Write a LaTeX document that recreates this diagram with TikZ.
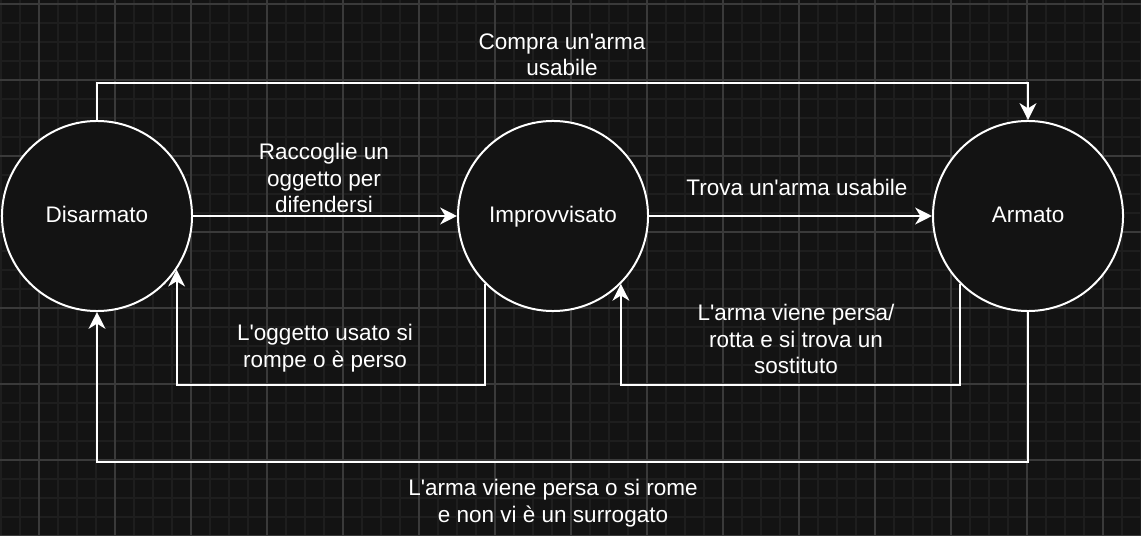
\documentclass[tikz,border=0pt]{standalone}
\usepackage{fontspec}
\setmainfont{Liberation Sans}
\usetikzlibrary{arrows.meta}
\definecolor{bgdark}{HTML}{131313}
\definecolor{gridminor}{HTML}{1E1E1E}
\definecolor{gridmajor}{HTML}{3A3A3A}
\newcommand{\apo}{\textquotesingle}
\tikzset{
  stato/.style={circle,draw=white,line width=0.05cm,fill=bgdark,text=white,
    minimum size=4.75cm,inner sep=0pt,text height=0.95em,text depth=0pt},
  flow/.style={draw=white,line width=0.05cm,-{Stealth[length=0.42cm,width=0.42cm,inset=0.13cm]}},
  etichetta/.style={text=white,align=center,inner sep=0pt},
}
\begin{document}
\begin{tikzpicture}[x=0.025cm,y=-0.025cm,
  every node/.append style={font=\fontsize{16}{18.8}\selectfont}]
\useasboundingbox[fill=bgdark] (0,0) rectangle (1141,536);
% griglia di sfondo
\foreach \gx in {0.7,19.7,...,1141} \draw[gridminor,line width=0.04cm] (\gx,0) -- (\gx,536);
\foreach \gy in {4,23,...,536} \draw[gridminor,line width=0.04cm] (0,\gy) -- (1141,\gy);
\foreach \gx in {38.7,114.7,...,1141} \draw[gridmajor,line width=0.04cm] (\gx,0) -- (\gx,536);
\foreach \gy in {4,80,...,536} \draw[gridmajor,line width=0.04cm] (0,\gy) -- (1141,\gy);
% stati
\node[stato] (dis) at (97,216) {Disarmato};
\node[stato] (imp) at (553,216) {Improvvisato};
\node[stato] (arm) at (1028,216) {Armato};
% transizioni
\draw[flow] (dis.east) -- (imp.west);
\draw[flow] (imp.east) -- (arm.west);
\draw[flow] (dis.north) -- (dis.north |- 0,83) -- (arm.north |- 0,83) -- (arm.north);
\draw[flow] (imp.-135) -- (imp.-135 |- 0,385) -- (dis.-34 |- 0,385) -- (dis.-34);
\draw[flow] (arm.-135) -- (arm.-135 |- 0,385) -- (imp.-45 |- 0,385) -- (imp.-45);
\draw[flow] (arm.south) -- (arm.south |- 0,462) -- (dis.south |- 0,462) -- (dis.south);
% etichette
\node[etichetta] (lcompra) at (562,55) {Compra un\apo arma\\usabile};
\node[etichetta] (lraccoglie) at (324,178) {Raccoglie un\\oggetto per\\difendersi};
\node[etichetta] (ltrova) at (797,187) {Trova un\apo arma usabile};
\node[etichetta] (loggetto) at (325,348) {L\apo oggetto usato si\\rompe o è perso};
\node[etichetta] (lpersa) at (796,339) {L\apo arma viene persa/\\rotta e si trova un\\sostituto};
\node[etichetta] (lsurrogato) at (553,503) {L\apo arma viene persa o si rome\\e non vi è un surrogato};
\end{tikzpicture}
\end{document}
